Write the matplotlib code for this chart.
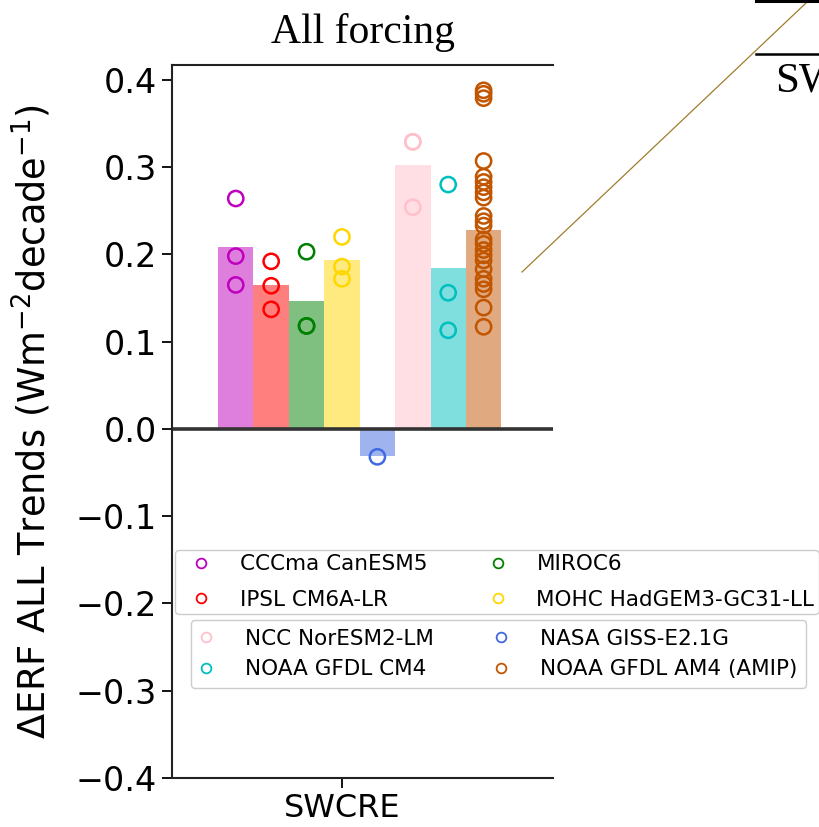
import numpy as np
import matplotlib
matplotlib.use('Agg')
import matplotlib.pyplot as plt
from matplotlib.lines import Line2D

# ensemble trends in SW cloud radiative effect, all-forcing runs (W m-2 per decade)
models = ['CCCma CanESM5', 'IPSL CM6A-LR', 'MIROC6', 'MOHC HadGEM3-GC31-LL',
          'NASA GISS-E2.1G', 'NCC NorESM2-LM', 'NOAA GFDL CM4', 'NOAA GFDL AM4 (AMIP)']
colors = ['m', 'red', 'green', 'gold', 'royalblue', 'pink', 'c', '#c25500']

ens_mean = [0.209, 0.165, 0.146, 0.193, -0.031, 0.302, 0.184, 0.228]

canesm5 = [0.264, 0.198, 0.165]
ipsl = [0.192, 0.164, 0.137]
miroc6 = [0.203, 0.118, 0.118]
hadgem3 = [0.220, 0.186, 0.172]
giss = [-0.032]
noresm2 = [0.329, 0.329, 0.254]
cm4 = [0.280, 0.156, 0.113]
am4 = [0.388, 0.384, 0.379, 0.307, 0.289, 0.283, 0.277, 0.271, 0.265, 0.244,
       0.238, 0.233, 0.217, 0.212, 0.205, 0.199, 0.193, 0.183, 0.172, 0.166,
       0.160, 0.139, 0.117]
members = [canesm5, ipsl, miroc6, hadgem3, giss, noresm2, cm4, am4]

variable = 'SWCRE'

fig = plt.figure(figsize=(8.2, 8.27), dpi=100)
ax = fig.add_axes([0.2098, 0.0593, 0.4646, 0.8621])

pos = np.arange(len(models)) - 3
for i in range(len(models)):
    ax.bar(pos[i], ens_mean[i], width=1.0, color=colors[i], alpha=0.5, zorder=1)
    ax.scatter(np.full(len(members[i]), pos[i]), members[i], s=120,
               facecolors='none', edgecolors=colors[i], linewidths=1.8, zorder=3)

ax.axhline(0, color='#333333', lw=2.6, zorder=2)

ax.set_xlim(-4.8, 5.96)
ax.set_ylim(-0.4, 0.417)
ax.set_xticks([0])
ax.set_xticklabels([variable])
ax.set_yticks(np.arange(-0.4, 0.41, 0.1))
ax.tick_params(axis='both', labelsize=24, length=7, width=1.3)
ax.tick_params(axis='x', labelsize=23, pad=4)
ax.tick_params(axis='y', pad=4)
for s in ['left', 'top', 'bottom']:
    ax.spines[s].set_linewidth(1.5)
    ax.spines[s].set_color('#222222')
ax.spines['right'].set_visible(False)

ax.set_ylabel(r'$\Delta$ERF ALL Trends (Wm$^{-2}$decade$^{-1}$)', fontsize=26.5)
ax.yaxis.set_label_coords(-0.31, 0.5)
ax.set_title('All forcing', family='Liberation Serif', fontsize=30, pad=16)

def handle(c):
    return Line2D([], [], ls='none', marker='o', ms=7, mfc='none', mec=c, mew=1.3)

idx1 = [0, 1, 2, 3]
idx2 = [5, 6, 4, 7]
leg1 = ax.legend([handle(colors[i]) for i in idx1], [models[i] for i in idx1],
                 ncol=2, fontsize=15.5, loc='upper left',
                 bbox_to_anchor=(0.2134, 0.335), bbox_transform=fig.transFigure,
                 borderaxespad=0, borderpad=0.2, labelspacing=0.72,
                 handlelength=2.0, handletextpad=0.8, columnspacing=2.28,
                 framealpha=1)
ax.add_artist(leg1)
leg2 = ax.legend([handle(colors[i]) for i in idx2], [models[i] for i in idx2],
                 ncol=2, fontsize=15.5, loc='upper left',
                 bbox_to_anchor=(0.2329, 0.2503), bbox_transform=fig.transFigure,
                 borderaxespad=0, borderpad=0.4, handlelength=0.6,
                 handletextpad=1.5, columnspacing=2.84, framealpha=1)

# connector to the zoomed panel on the right and the edge of its table
fig.add_artist(Line2D([0.6366, 0.99], [0.6711, 1.003], transform=fig.transFigure,
                      color='#a07d2c', lw=0.9))
fig.add_artist(Line2D([0.922, 1.0], [0.9985, 0.9985], transform=fig.transFigure,
                      color='black', lw=2.2))
fig.add_artist(Line2D([0.922, 1.0], [0.9347, 0.9347], transform=fig.transFigure,
                      color='black', lw=1.8))
fig.text(0.945, 1 - 92 / 827, variable, family='Liberation Serif', fontsize=31,
         va='baseline', ha='left')

fig.savefig('out.png', dpi=100)
